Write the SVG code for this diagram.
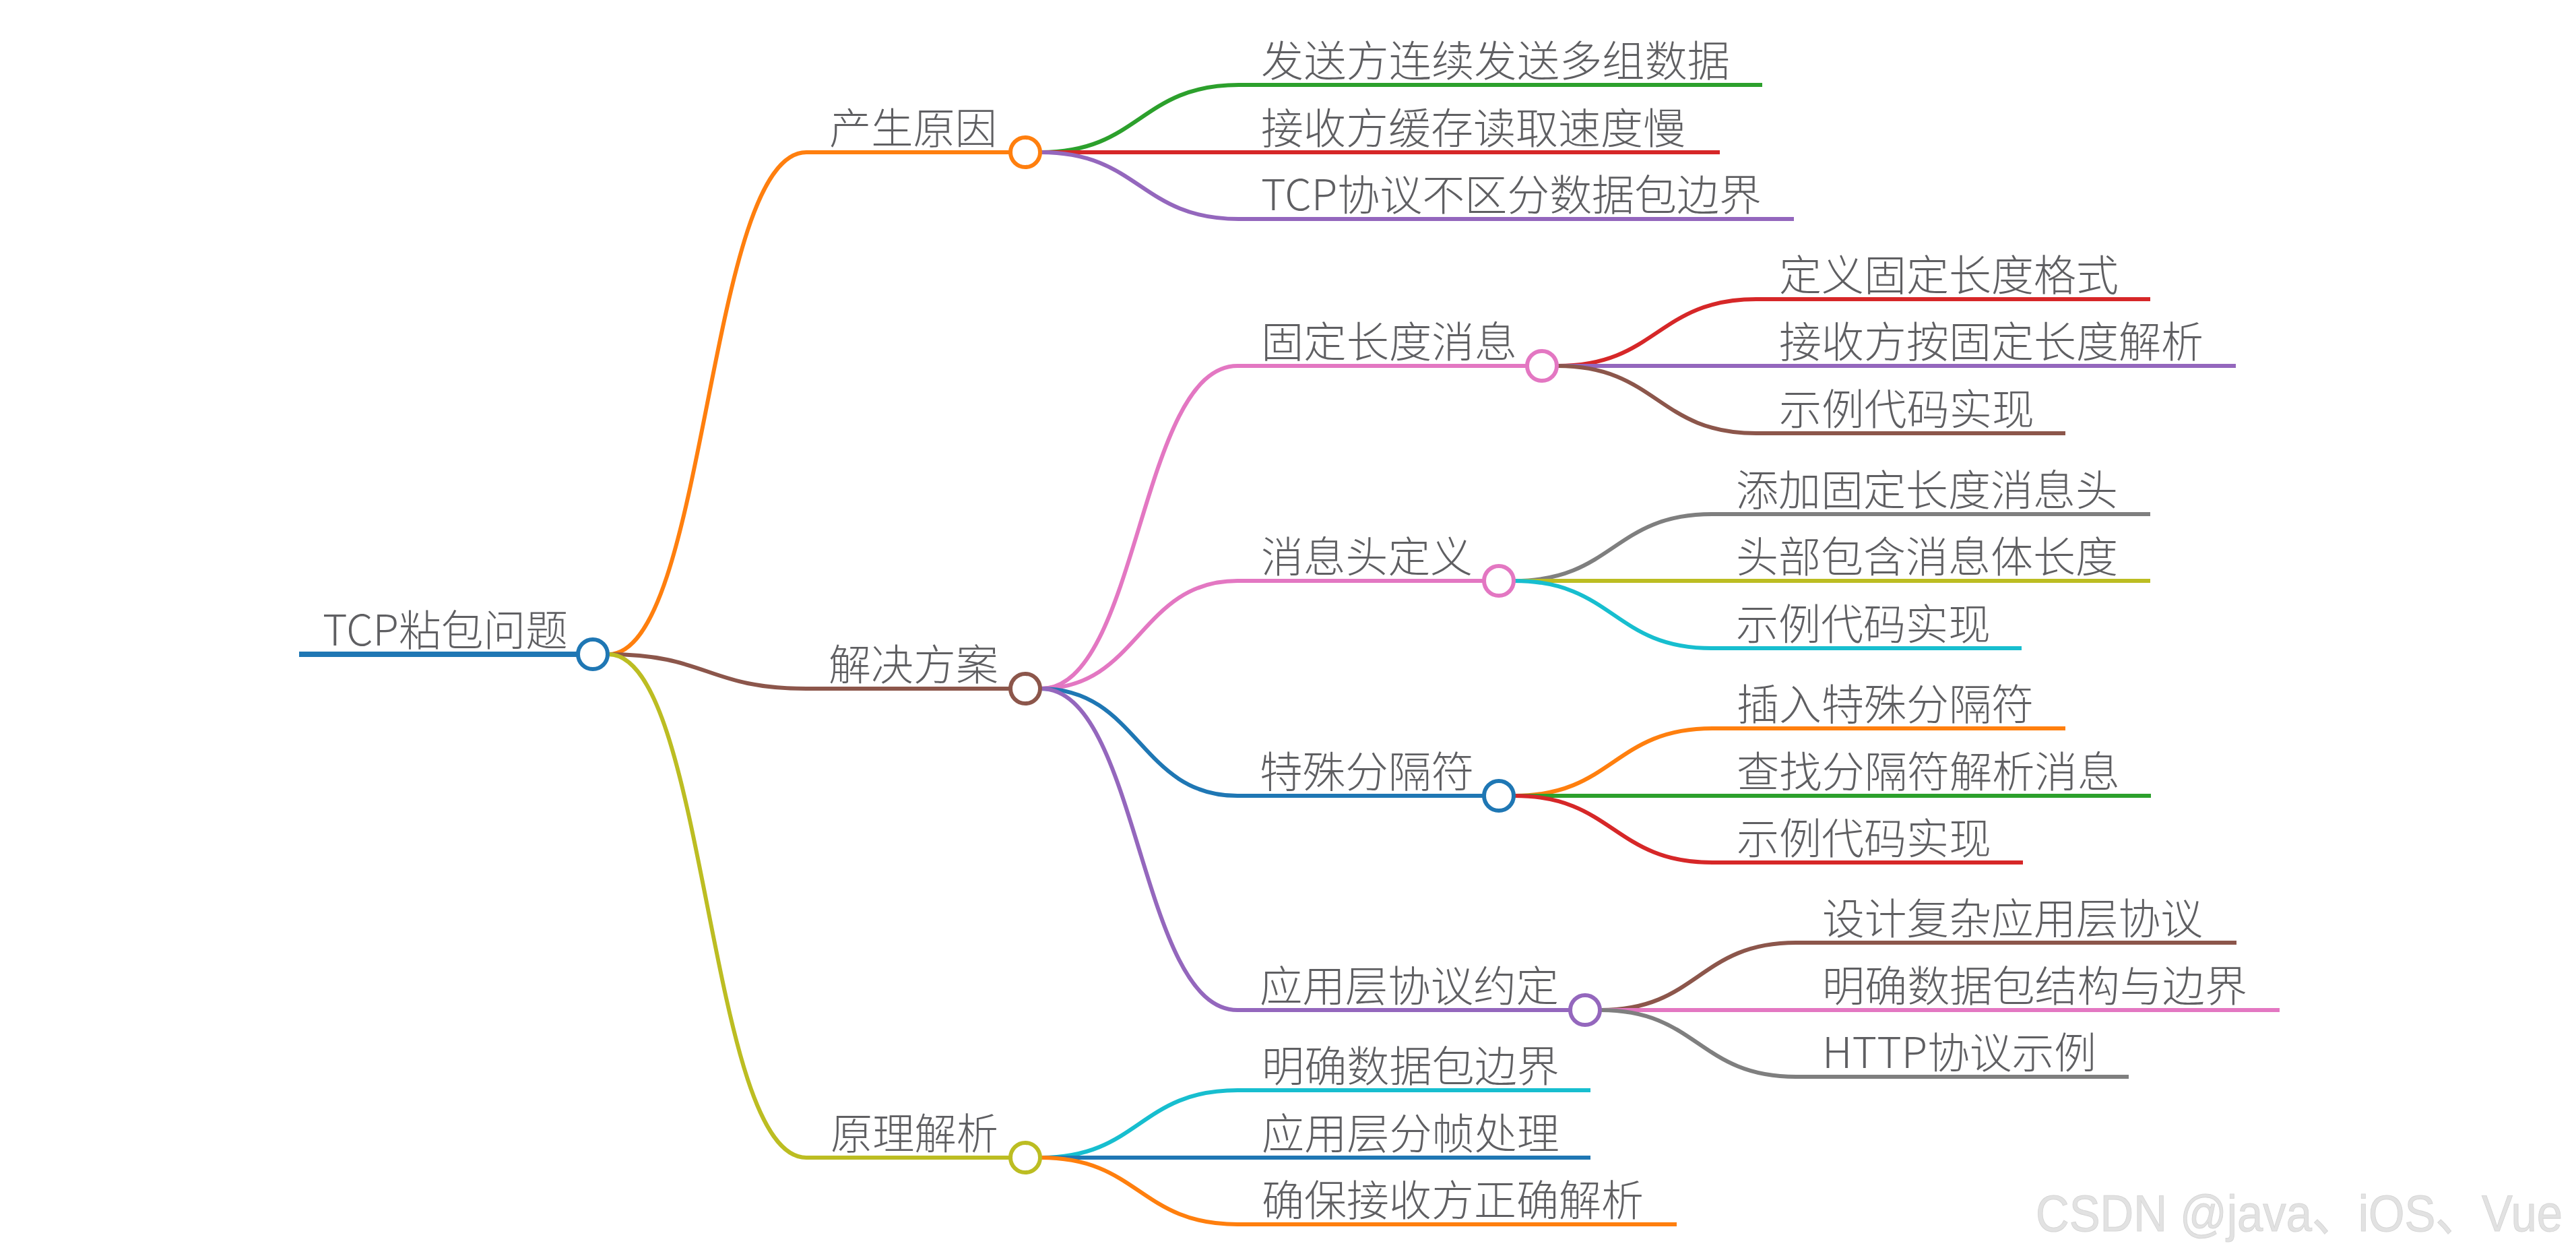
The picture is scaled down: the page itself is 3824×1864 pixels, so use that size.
<svg xmlns="http://www.w3.org/2000/svg" width="3824" height="1864" viewBox="0 0 3824 1864">
<style>
.t{font-family:"Noto Sans CJK SC","Noto Sans",sans-serif;font-size:63px;font-weight:300;fill:#5f5f62;}
.c{fill:#fff;stroke-width:6;}
.e{fill:none;stroke-width:6;}
.wm{font-family:"Liberation Sans","Noto Sans CJK SC",sans-serif;font-size:76px;fill:#e2e2e2;stroke:#d6d6d6;stroke-width:1;}
</style>
<rect width="3824" height="1864" fill="#fff"/>
<g id="connectors">
<path class="e" stroke="#ff7f0e" d="M903,971 C1050,971 1050,226 1197,226 H1522"/>
<path class="e" stroke="#8c564b" d="M903,971 C1050,971 1050,1022 1197,1022 H1522"/>
<path class="e" stroke="#bcbd22" d="M903,971 C1050,971 1050,1718 1197,1718 H1522"/>
<path class="e" stroke="#2ca02c" d="M1545,226 C1692,226 1692,126 1839,126 H2616"/>
<path class="e" stroke="#d62728" d="M1545,226 C1692,226 1692,226 1839,226 H2553"/>
<path class="e" stroke="#9467bd" d="M1545,226 C1692,226 1692,325 1839,325 H2663"/>
<path class="e" stroke="#e377c2" d="M1545,1022 C1691,1022 1691,543 1837,543 H2289"/>
<path class="e" stroke="#e377c2" d="M1545,1022 C1691,1022 1691,862 1837,862 H2225"/>
<path class="e" stroke="#1f77b4" d="M1545,1022 C1691,1022 1691,1181 1837,1181 H2225"/>
<path class="e" stroke="#9467bd" d="M1545,1022 C1691,1022 1691,1499 1837,1499 H2353"/>
<path class="e" stroke="#17becf" d="M1545,1718 C1691,1718 1691,1618 1837,1618 H2361"/>
<path class="e" stroke="#1f77b4" d="M1545,1718 C1691,1718 1691,1718 1837,1718 H2361"/>
<path class="e" stroke="#ff7f0e" d="M1545,1718 C1691,1718 1691,1817 1837,1817 H2489"/>
<path class="e" stroke="#d62728" d="M2312,543 C2460,543 2460,444 2607,444 H3192"/>
<path class="e" stroke="#9467bd" d="M2312,543 C2460,543 2460,543 2607,543 H3319"/>
<path class="e" stroke="#8c564b" d="M2312,543 C2460,543 2460,643 2607,643 H3066"/>
<path class="e" stroke="#7f7f7f" d="M2248,862 C2395,862 2395,763 2541,763 H3192"/>
<path class="e" stroke="#bcbd22" d="M2248,862 C2395,862 2395,862 2541,862 H3192"/>
<path class="e" stroke="#17becf" d="M2248,862 C2395,862 2395,962 2541,962 H3001"/>
<path class="e" stroke="#ff7f0e" d="M2248,1181 C2395,1181 2395,1081 2542,1081 H3066"/>
<path class="e" stroke="#2ca02c" d="M2248,1181 C2395,1181 2395,1181 2542,1181 H3193"/>
<path class="e" stroke="#d62728" d="M2248,1181 C2395,1181 2395,1280 2542,1280 H3003"/>
<path class="e" stroke="#8c564b" d="M2376,1499 C2521,1499 2521,1399 2666,1399 H3320"/>
<path class="e" stroke="#e377c2" d="M2376,1499 C2521,1499 2521,1499 2666,1499 H3384"/>
<path class="e" stroke="#7f7f7f" d="M2376,1499 C2521,1499 2521,1598 2666,1598 H3160"/>
</g>
<g id="root">
<line x1="444" y1="971" x2="880" y2="971" stroke="#1f77b4" stroke-width="8"/>
<text class="t" x="479" y="958" textLength="364" lengthAdjust="spacingAndGlyphs">TCP粘包问题</text>
<circle class="c" cx="880" cy="971" r="22" stroke="#1f77b4"/>
</g>
<g id="n-cause">
<text class="t" x="1231" y="213" textLength="249" lengthAdjust="spacingAndGlyphs">产生原因</text>
<circle class="c" cx="1522" cy="226" r="22" stroke="#ff7f0e"/>
</g>
<g id="n-cause-1"><text class="t" x="1872" y="113" textLength="696" lengthAdjust="spacingAndGlyphs">发送方连续发送多组数据</text></g>
<g id="n-cause-2"><text class="t" x="1872" y="213" textLength="630" lengthAdjust="spacingAndGlyphs">接收方缓存读取速度慢</text></g>
<g id="n-cause-3"><text class="t" x="1872" y="312" textLength="743" lengthAdjust="spacingAndGlyphs">TCP协议不区分数据包边界</text></g>
<g id="n-solution">
<text class="t" x="1230" y="1009" textLength="252" lengthAdjust="spacingAndGlyphs">解决方案</text>
<circle class="c" cx="1522" cy="1022" r="22" stroke="#8c564b"/>
</g>
<g id="n-fixed">
<text class="t" x="1872" y="530" textLength="380" lengthAdjust="spacingAndGlyphs">固定长度消息</text>
<circle class="c" cx="2289" cy="543" r="22" stroke="#e377c2"/>
</g>
<g id="n-fixed-1"><text class="t" x="2641" y="431" textLength="504" lengthAdjust="spacingAndGlyphs">定义固定长度格式</text></g>
<g id="n-fixed-2"><text class="t" x="2641" y="530" textLength="630" lengthAdjust="spacingAndGlyphs">接收方按固定长度解析</text></g>
<g id="n-fixed-3"><text class="t" x="2641" y="630" textLength="379" lengthAdjust="spacingAndGlyphs">示例代码实现</text></g>
<g id="n-header">
<text class="t" x="1872" y="849" textLength="314" lengthAdjust="spacingAndGlyphs">消息头定义</text>
<circle class="c" cx="2225" cy="862" r="22" stroke="#e377c2"/>
</g>
<g id="n-header-1"><text class="t" x="2577" y="750" textLength="567" lengthAdjust="spacingAndGlyphs">添加固定长度消息头</text></g>
<g id="n-header-2"><text class="t" x="2577" y="849" textLength="567" lengthAdjust="spacingAndGlyphs">头部包含消息体长度</text></g>
<g id="n-header-3"><text class="t" x="2577" y="949" textLength="378" lengthAdjust="spacingAndGlyphs">示例代码实现</text></g>
<g id="n-delim">
<text class="t" x="1870" y="1168" textLength="318" lengthAdjust="spacingAndGlyphs">特殊分隔符</text>
<circle class="c" cx="2225" cy="1181" r="22" stroke="#1f77b4"/>
</g>
<g id="n-delim-1"><text class="t" x="2578" y="1068" textLength="441" lengthAdjust="spacingAndGlyphs">插入特殊分隔符</text></g>
<g id="n-delim-2"><text class="t" x="2578" y="1168" textLength="569" lengthAdjust="spacingAndGlyphs">查找分隔符解析消息</text></g>
<g id="n-delim-3"><text class="t" x="2578" y="1267" textLength="378" lengthAdjust="spacingAndGlyphs">示例代码实现</text></g>
<g id="n-app">
<text class="t" x="1870" y="1486" textLength="444" lengthAdjust="spacingAndGlyphs">应用层协议约定</text>
<circle class="c" cx="2353" cy="1499" r="22" stroke="#9467bd"/>
</g>
<g id="n-app-1"><text class="t" x="2705" y="1386" textLength="565" lengthAdjust="spacingAndGlyphs">设计复杂应用层协议</text></g>
<g id="n-app-2"><text class="t" x="2705" y="1486" textLength="631" lengthAdjust="spacingAndGlyphs">明确数据包结构与边界</text></g>
<g id="n-app-3"><text class="t" x="2705" y="1585" textLength="407" lengthAdjust="spacingAndGlyphs">HTTP协议示例</text></g>
<g id="n-principle">
<text class="t" x="1233" y="1705" textLength="249" lengthAdjust="spacingAndGlyphs">原理解析</text>
<circle class="c" cx="1522" cy="1718" r="22" stroke="#bcbd22"/>
</g>
<g id="n-principle-1"><text class="t" x="1873" y="1605" textLength="442" lengthAdjust="spacingAndGlyphs">明确数据包边界</text></g>
<g id="n-principle-2"><text class="t" x="1873" y="1705" textLength="442" lengthAdjust="spacingAndGlyphs">应用层分帧处理</text></g>
<g id="n-principle-3"><text class="t" x="1873" y="1804" textLength="567" lengthAdjust="spacingAndGlyphs">确保接收方正确解析</text></g>
<text class="wm" transform="translate(3022,1827) scale(0.905,1)" x="0" y="0">CSDN @java、iOS、Vue</text>
</svg>
